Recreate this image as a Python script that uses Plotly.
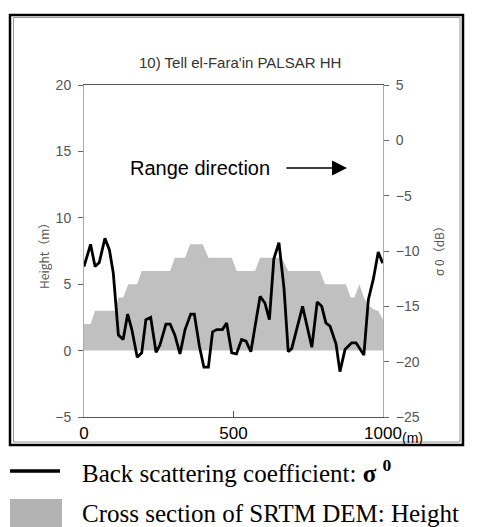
import plotly.graph_objects as go

# ---- data ----
sigma_x = [0, 22, 37, 51, 70, 85, 98, 115, 131, 146, 160, 178, 193, 207, 223, 241, 254,
           274, 288, 304, 321, 338, 357, 369, 386, 401, 416, 430, 444, 463, 477, 494, 510,
           527, 542, 558, 589, 605, 620, 635, 652, 669, 683, 695, 731, 762, 780, 795, 809,
           823, 843, 856, 873, 895, 910, 936, 951, 968, 984, 999]
sigma_db = [-11.4, -9.4, -11.4, -11.05, -8.85, -9.9, -12.0, -17.6, -18.0, -15.7, -17.1,
            -19.6, -19.2, -16.2, -16.0, -19.15, -18.5, -16.6, -16.6, -17.6, -19.3, -17.1,
            -15.7, -15.7, -18.6, -20.5, -20.5, -17.3, -17.1, -17.1, -16.5, -19.2, -19.3,
            -18.0, -18.15, -19.1, -14.1, -14.7, -16.2, -10.7, -9.25, -13.4, -19.1, -18.8,
            -15.0, -18.7, -14.6, -15.0, -16.5, -16.8, -18.4, -20.9, -18.9, -18.3, -18.3,
            -19.4, -14.4, -12.5, -10.1, -11.1]

height_x = [0, 22, 37, 104, 115, 131, 148, 178, 193, 288, 304, 338, 355, 397, 416, 494,
            511, 572, 589, 661, 683, 789, 806, 876, 892, 904, 921, 936, 951, 970, 984, 999, 1000]
height_m = [2, 2, 3, 3, 4, 4, 5, 5, 6, 6, 7, 7, 8, 8, 7, 7, 6, 6, 7, 7, 6, 6, 5, 5, 4, 4,
            5, 4, 3.4, 3.1, 3, 2.3, 2.3]

x_ticks = [0, 500, 1000]
x_ticktext = ["0", "500", "1000"]

title_text = "10) Tell el-Fara'in PALSAR HH"
left_title = "Height（m）"
right_title = "σ 0（dB）"
range_text = "Range direction"
x_unit = "(m)"
legend_line_text = "Back scattering coefficient: <b>σ</b> <sup><b>0</b></sup>"
legend_fill_text = "Cross section of SRTM DEM: Height"

# ---- layout geometry (page pixels; page body has an 8px margin) ----
OFF = 8
W, H = 478 - OFF, 527 - OFF
L, R, T, B = 84, 383, 85, 417


def px(xp):
    return (xp - L) / (R - L)


def py(yp):
    return (B - yp) / (B - T)


fig = go.Figure()
fig.add_trace(go.Scatter(x=height_x, y=height_m, mode="lines", fill="tozeroy",
                         fillcolor="#c0c0c0", line=dict(width=0, color="#c0c0c0"),
                         yaxis="y", showlegend=False, hoverinfo="skip"))
fig.add_trace(go.Scatter(x=sigma_x, y=sigma_db, mode="lines",
                         line=dict(width=2.8, color="black"),
                         yaxis="y2", showlegend=False))

tick_font = dict(family="Liberation Sans, Arial", size=14, color="#555555")
title_font = dict(family="Noto Sans CJK JP, Noto Sans", size=12, color="#555555")

fig.update_layout(
    width=W, height=H, autosize=False,
    margin=dict(l=L - OFF, r=478 - R, t=T - OFF, b=527 - B),
    paper_bgcolor="white", plot_bgcolor="white",
    showlegend=False,
    xaxis=dict(range=[0, 1000], tickvals=x_ticks, ticktext=x_ticktext,
               ticks="inside", ticklen=6, tickcolor="#555555",
               showline=True, linecolor="#555555", linewidth=1, mirror=True,
               showgrid=False, zeroline=False, ticklabelstandoff=1,
               tickfont=dict(family="Liberation Sans, Arial", size=17, color="black")),
    yaxis=dict(range=[-5, 20], dtick=5, ticks="outside", ticklen=5, tickcolor="#666666",
               showline=True, linecolor="#aaaaaa", linewidth=1, ticklabelstandoff=4,
               showgrid=False, zeroline=False, tickfont=tick_font),
    yaxis2=dict(range=[-25, 5], dtick=5, ticks="outside", ticklen=5, tickcolor="#666666",
                showline=True, linecolor="#aaaaaa", linewidth=1, ticklabelstandoff=4,
                overlaying="y", side="right",
                showgrid=False, zeroline=False, tickfont=tick_font),
)

ann = []
ann.append(dict(text=title_text, x=px(240), y=py(62), xref="paper", yref="paper",
                showarrow=False, xanchor="center", yanchor="middle",
                font=dict(family="Liberation Sans, Arial", size=15, color="#333333")))
ann.append(dict(text=left_title, x=px(43), y=py(253), xref="paper", yref="paper",
                showarrow=False, textangle=-90, xanchor="center", yanchor="middle",
                font=title_font))
ann.append(dict(text=right_title, x=px(438), y=py(248), xref="paper", yref="paper",
                showarrow=False, textangle=-90, xanchor="center", yanchor="middle",
                font=title_font))
ann.append(dict(text=range_text, x=px(200), y=py(168), xref="paper", yref="paper",
                showarrow=False, xanchor="center", yanchor="middle",
                font=dict(family="Liberation Sans, Arial", size=20, color="black")))
ann.append(dict(text="", x=px(347), y=py(168), xref="paper", yref="paper",
                showarrow=True, ax=-62, ay=0, axref="pixel", ayref="pixel",
                arrowhead=2, arrowsize=2, arrowwidth=1.5, arrowcolor="black"))
ann.append(dict(text=x_unit, x=px(400), y=py(438), xref="paper", yref="paper",
                showarrow=False, xanchor="left", yanchor="middle",
                font=dict(family="Liberation Sans, Arial", size=14, color="black")))
ann.append(dict(text=legend_line_text, x=px(80), y=py(471), xref="paper", yref="paper",
                showarrow=False, xanchor="left", yanchor="middle",
                font=dict(family="Liberation Serif, Times New Roman", size=25, color="black")))
ann.append(dict(text=legend_fill_text, x=px(80), y=py(513), xref="paper", yref="paper",
                showarrow=False, xanchor="left", yanchor="middle",
                font=dict(family="Liberation Serif, Times New Roman", size=25, color="black")))
fig.update_layout(annotations=ann)

shapes = []
# outer double border
shapes.append(dict(type="rect", xref="paper", yref="paper",
                   x0=px(10), x1=px(463), y0=py(445), y1=py(15),
                   line=dict(color="black", width=2.5), layer="above"))
shapes.append(dict(type="rect", xref="paper", yref="paper",
                   x0=px(13.5), x1=px(460), y0=py(442), y1=py(17.5),
                   line=dict(color="#999999", width=1), layer="above"))
# legend symbols
shapes.append(dict(type="line", xref="paper", yref="paper",
                   x0=px(10), x1=px(60), y0=py(471), y1=py(471),
                   line=dict(color="black", width=3.5)))
shapes.append(dict(type="rect", xref="paper", yref="paper",
                   x0=px(10), x1=px(62), y0=py(527), y1=py(499),
                   fillcolor="#b3b3b3", line=dict(width=0)))
fig.update_layout(shapes=shapes)

fig.write_html("out.html")
